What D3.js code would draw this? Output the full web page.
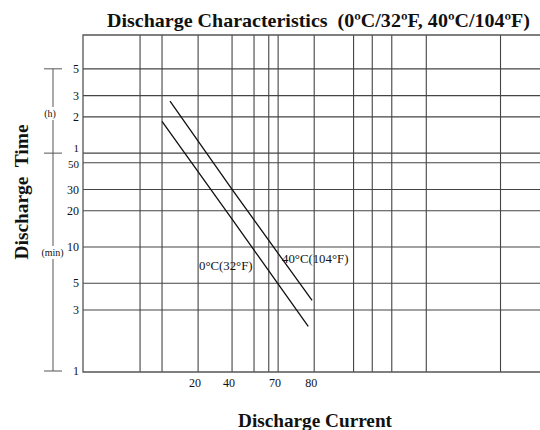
<!DOCTYPE html>
<html>
<head>
<meta charset="utf-8">
<script src="https://cdn.jsdelivr.net/npm/d3@7"></script>
<style>
  html, body { margin: 0; padding: 0; background: #fff; }
  svg { display: block; }
  text { font-family: "Liberation Serif", "DejaVu Serif", serif; fill: #111; white-space: pre; }
</style>
</head>
<body>
<div id="chart"></div>
<script>
(function () {
  'use strict';

  // Discharge current (A) where the vertical grid lines sit
  var currentGrid = [10, 13, 20, 30, 39, 46.5, 52, 80, 128, 160, 202, 305, 740];
  // x tick labels as printed, and the grid line each one sits under
  var currentLabels = ['20', '40', '70', '80'];
  var currentLabelAt = [20, 30, 52, 80];

  // Discharge time, in minutes
  var timeGrid = [3, 5, 10, 20, 30, 50, 60, 120, 180, 300];
  var minuteTicks = [1, 3, 5, 10, 20, 30, 50];
  var hourTicks = [1, 2, 3, 5];

  // Curves: [current A, time min]
  var series0C = [[13, 110], [30, 17], [74.5, 2.2]];
  var series40C = [[14.3, 162], [30, 30], [78, 3.6]];
  var seriesNames = ['0\u00B0C(32\u00B0F)', '40\u00B0C(104\u00B0F)'];

  var width = 540, height = 430;
  var left = 83, right = 541, top = 35, bottom = 372;

  var svg = d3.select('#chart').append('svg')
    .attr('width', width)
    .attr('height', height);

  var x = d3.scaleLog().domain([5, 1200]).range([82, 541]);
  var y = d3.scaleLog().domain([0.919, 551]).range([bottom, 37]);

  // Grid
  var grid = svg.append('g');
  grid.selectAll('line.v')
    .data(currentGrid)
    .join('line')
    .attr('class', 'v')
    .attr('x1', function (d) { return x(d); })
    .attr('x2', function (d) { return x(d); })
    .attr('y1', top)
    .attr('y2', bottom)
    .attr('stroke', '#444')
    .attr('stroke-width', 1.1);

  grid.selectAll('line.h')
    .data(timeGrid)
    .join('line')
    .attr('class', 'h')
    .attr('x1', left)
    .attr('x2', right)
    .attr('y1', function (d) { return y(d); })
    .attr('y2', function (d) { return y(d); })
    .attr('stroke', '#444')
    .attr('stroke-width', 1.1);

  // Frame: top, left, bottom
  svg.append('path')
    .attr('d', 'M' + right + ',' + top + 'H' + left + 'V' + bottom + 'H' + right)
    .attr('fill', 'none')
    .attr('stroke', '#555')
    .attr('stroke-width', 1.3);

  // Y tick labels ("1" h and "50" min sit close, nudge them apart)
  var labelX = 79;
  svg.append('g').selectAll('text')
    .data(minuteTicks)
    .join('text')
    .attr('x', labelX)
    .attr('y', function (d) {
      if (d === 1) return bottom - 1;
      if (d === 50) return y(d) + 1.5;
      return y(d);
    })
    .attr('dy', '0.35em')
    .attr('text-anchor', 'end')
    .attr('font-size', function (d) { return d === 50 ? '11px' : '12px'; })
    .text(function (d) { return d; });

  svg.append('g').selectAll('text')
    .data(hourTicks)
    .join('text')
    .attr('x', labelX)
    .attr('y', function (d) { return y(d * 60) - (d === 1 ? 4.5 : 0); })
    .attr('dy', '0.35em')
    .attr('text-anchor', 'end')
    .attr('font-size', function (d) { return d === 1 ? '11px' : '12px'; })
    .text(function (d) { return d; });

  // Bracket on the left: hours / minutes
  var bx = 53;
  var bracket = svg.append('g').attr('stroke', '#555').attr('stroke-width', 1);
  bracket.append('line')
    .attr('x1', bx).attr('x2', bx)
    .attr('y1', y(300)).attr('y2', bottom - 1);
  [y(300), y(60), bottom - 1].forEach(function (yy) {
    bracket.append('line')
      .attr('x1', 44).attr('x2', 62)
      .attr('y1', yy).attr('y2', yy);
  });

  svg.append('rect').attr('x', 42).attr('y', 107).attr('width', 16).attr('height', 13).attr('fill', '#fff');
  svg.append('text')
    .attr('x', 50).attr('y', 113.5)
    .attr('dy', '0.35em')
    .attr('text-anchor', 'middle')
    .attr('font-size', '10px')
    .text('(h)');

  svg.append('rect').attr('x', 38).attr('y', 246).attr('width', 29).attr('height', 13).attr('fill', '#fff');
  svg.append('text')
    .attr('x', 52.5).attr('y', 252.5)
    .attr('dy', '0.35em')
    .attr('text-anchor', 'middle')
    .attr('font-size', '10px')
    .text('(min)');

  // X tick labels
  svg.append('g').selectAll('text')
    .data(currentLabels)
    .join('text')
    .attr('x', function (d, i) { return x(currentLabelAt[i]) - 3; })
    .attr('y', 386.5)
    .attr('text-anchor', 'middle')
    .attr('font-size', '12px')
    .text(function (d) { return d; });

  // Curves
  var line = d3.line()
    .x(function (d) { return x(d[0]); })
    .y(function (d) { return y(d[1]); });

  svg.append('g').selectAll('path')
    .data([series0C, series40C])
    .join('path')
    .attr('d', line)
    .attr('fill', 'none')
    .attr('stroke', '#111')
    .attr('stroke-width', 1.3);

  // Curve labels
  svg.append('text')
    .attr('x', 199).attr('y', 270)
    .attr('font-size', '12.8px')
    .text(seriesNames[0]);
  svg.append('text')
    .attr('x', 282).attr('y', 263)
    .attr('font-size', '12.8px')
    .text(seriesNames[1]);

  // Titles
  svg.append('text')
    .attr('x', 107).attr('y', 27)
    .attr('font-size', '19px')
    .attr('font-weight', 'bold')
    .attr('textLength', 423)
    .attr('lengthAdjust', 'spacingAndGlyphs')
    .text('Discharge Characteristics  (0\u00BAC/32\u00BAF, 40\u00BAC/104\u00BAF)');

  svg.append('text')
    .attr('transform', 'translate(28,192) rotate(-90)')
    .attr('text-anchor', 'middle')
    .attr('font-size', '19.5px')
    .attr('font-weight', 'bold')
    .attr('textLength', 135)
    .attr('lengthAdjust', 'spacingAndGlyphs')
    .text('Discharge  Time');

  svg.append('text')
    .attr('x', 315).attr('y', 427)
    .attr('text-anchor', 'middle')
    .attr('font-size', '19px')
    .attr('font-weight', 'bold')
    .attr('textLength', 154)
    .attr('lengthAdjust', 'spacingAndGlyphs')
    .text('Discharge Current');
})();
</script>
</body>
</html>
